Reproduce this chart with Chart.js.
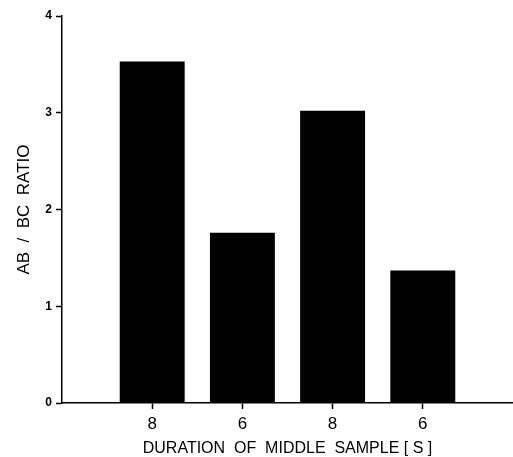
<!DOCTYPE html>
<html>
<head>
<meta charset="utf-8">
<script src="https://cdn.jsdelivr.net/npm/chart.js@4"></script>
<style>
html,body{margin:0;padding:0;background:#fff;}
#wrap{width:513px;height:457px;position:relative;}
</style>
</head>
<body>
<div id="wrap"><canvas id="c" width="513" height="457"></canvas></div>
<script>
const categories = ['', '8', '6', '8', '6', ''];
const ratioValues = [null, 3.53, 1.76, 3.02, 1.37, null];
const yTicks = [0, 1, 2, 3, 4];
const xTitle = 'DURATION  OF  MIDDLE  SAMPLE [ S ]';
const yTitle = 'AB  /  BC  RATIO';

const FONT = "'Liberation Sans', Arial, sans-serif";

new Chart(document.getElementById('c'), {
  type: 'bar',
  data: {
    labels: categories,
    datasets: [{
      data: ratioValues,
      backgroundColor: '#000',
      borderWidth: 0,
      categoryPercentage: 1,
      barPercentage: 0.72
    }]
  },
  options: {
    responsive: false,
    animation: false,
    devicePixelRatio: 1,
    layout: { padding: { top: 16, right: 0, left: 0, bottom: 0 } },
    plugins: { legend: { display: false }, tooltip: { enabled: false } },
    scales: {
      x: {
        type: 'category',
        offset: false,
        grid: {
          offset: false,
          drawOnChartArea: false,
          drawTicks: true,
          tickLength: 6,
          tickColor: (ctx) => (ctx.index === 0 || ctx.index === categories.length - 1) ? 'rgba(0,0,0,0)' : '#000',
          tickWidth: 1.5
        },
        border: { display: true, color: '#000', width: 1.5 },
        ticks: {
          color: '#000',
          font: { family: FONT, size: 17 },
          padding: 5,
          maxRotation: 0,
          autoSkip: false
        },
        title: {
          display: true,
          text: xTitle,
          color: '#000',
          font: { family: FONT, size: 16 },
          padding: { top: 0, bottom: -1 }
        },
        afterFit: (s) => { s.height = 54; s.paddingRight = 0; s.paddingLeft = 0; }
      },
      y: {
        min: 0,
        max: 4,
        afterBuildTicks: (s) => { s.ticks = yTicks.map(v => ({ value: v })); },
        grid: {
          drawOnChartArea: false,
          drawTicks: true,
          tickLength: 6,
          tickColor: '#000',
          tickWidth: 1.5
        },
        border: { display: true, color: '#000', width: 1.5 },
        ticks: {
          color: '#000',
          font: { family: FONT, size: 12, weight: 'bold' },
          padding: 4
        },
        title: {
          display: true,
          text: yTitle,
          color: '#000',
          font: { family: FONT, size: 17 },
          padding: { top: 14, bottom: 0 }
        },
        afterFit: (s) => { s.width = 62; }
      }
    }
  }
});
</script>
</body>
</html>
